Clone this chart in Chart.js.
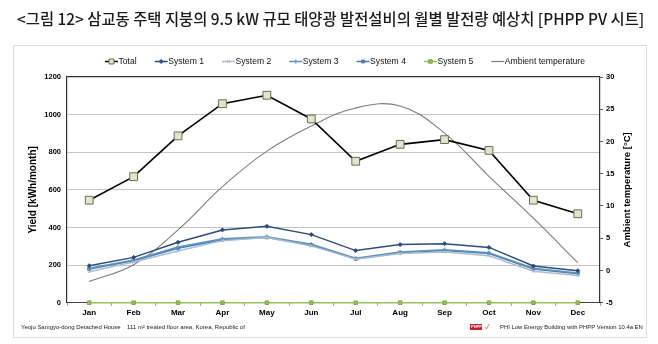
<!DOCTYPE html>
<html>
<head>
<meta charset="utf-8">
<script src="https://cdn.jsdelivr.net/npm/chart.js@4/dist/chart.umd.min.js"></script>
<style>
    body { margin: 0; background: #fff; }
    #wrap { position: relative; width: 658px; height: 344px; overflow: hidden; }
    #pvChart { position: absolute; left: 0; top: 0; }
    #heading {
        position: absolute; left: 17px; top: 7px;
        font-family: "Noto Sans CJK KR", sans-serif; font-weight: 500;
        font-size: 16px; color: #1a1a1a; white-space: nowrap;
    }
    #frame {
        position: absolute; left: 13px; top: 45px; width: 632px; height: 291px;
        border: 1px solid #dcdcdc;
    }
</style>
</head>
<body>
<div id="wrap">
    <div id="frame"></div>
    <canvas id="pvChart" width="658" height="344"></canvas>
    <div id="heading">&lt;그림 12&gt; 삼교동 주택 지붕의 9.5 kW 규모 태양광 발전설비의 월별 발전량 예상치 [PHPP PV 시트]</div>
</div>
<script>
const months = ["Jan", "Feb", "Mar", "Apr", "May", "Jun", "Jul", "Aug", "Sep", "Oct", "Nov", "Dec"];

const totalYield = [545, 670, 887, 1058, 1103, 977, 752, 842, 867, 810, 545, 473];
const system1 = [197, 241, 321, 387, 406, 362, 277, 309, 314, 294, 195, 170];
const system2 = [165, 216, 275, 330, 346, 302, 231, 261, 270, 250, 167, 144];
const system3 = [183, 227, 296, 340, 351, 311, 236, 270, 281, 266, 183, 158];
const system4 = [179, 223, 290, 335, 347, 307, 232, 266, 277, 262, 179, 154];
const system5 = [0, 0, 0, 0, 0, 0, 0, 0, 0, 0, 0, 0];
const ambientTemp = [-1.7, 0.9, 6.3, 13.0, 18.5, 22.4, 25.2, 25.5, 21.3, 14.6, 8.1, 1.2];

const yieldRange = [0, 1200, 200];
const tempRange = [-5, 30, 5];

// footer pieces: text, left edge, width in the picture
const footer = [
    ["Yeoju Samgyo-dong Detached House", 21, 100],
    ["111 m² treated floor area, Korea, Republic of", 127, 118],
    ["PHI Low Energy Building with PHPP Version 10.4a EN", 500, 143]
];

// fit the heading to the width used in the picture
const heading = document.getElementById("heading");
heading.style.fontSize = (16 * 628 / heading.offsetWidth) + "px";

const axisFont = { family: "'Liberation Sans', Arial, sans-serif", size: 7.5, weight: "bold" };

function series(label, data, color, style, radius, extra) {
    return Object.assign({
        label: label,
        data: data,
        borderColor: color,
        backgroundColor: color,
        borderWidth: 1.5,
        pointStyle: style,
        pointRadius: radius,
        pointBorderWidth: 1,
        pointBorderColor: color,
        pointBackgroundColor: color,
        tension: 0,
        clip: false,
        yAxisID: "y"
    }, extra || {});
}

// legend drawn as line + marker like the original
const lineLegend = {
    id: "lineLegend",
    afterDraw(chart) {
        const c = chart.ctx;
        let x = 105;
        const y = 61.5;
        c.save();
        c.font = "8.6px 'Liberation Sans', Arial, sans-serif";
        c.textBaseline = "middle";
        chart.data.datasets.forEach((ds) => {
            c.strokeStyle = ds.borderColor;
            c.lineWidth = ds.label === "Ambient temperature" ? 1.2 : 1.5;
            c.beginPath();
            c.moveTo(x, y);
            c.lineTo(x + 13, y);
            c.stroke();
            if (ds.pointRadius > 0) {
                c.fillStyle = ds.pointBackgroundColor;
                c.strokeStyle = ds.pointBorderColor;
                c.lineWidth = 1;
                const r = ds.label === "Total" ? 3.5 : ds.pointRadius;
                Chart.helpers.drawPoint(c, { pointStyle: ds.pointStyle, radius: r, rotation: 0, borderWidth: 1 }, x + 6.5, y);
            }
            c.fillStyle = "#111";
            c.fillText(ds.label, x + 13.5, y);
            x += 13.5 + c.measureText(ds.label).width + 18;
        });
        c.restore();
    }
};

const extraText = {
    id: "extraText",
    afterDraw(chart) {
        const c = chart.ctx;
        const area = chart.chartArea;
        c.save();
        c.font = "bold 9.5px 'Liberation Sans', Arial, sans-serif";
        c.fillStyle = "#000";
        c.textAlign = "center";
        c.textBaseline = "middle";
        c.translate(627, (area.top + area.bottom) / 2);
        c.rotate(-Math.PI / 2);
        c.fillText("Ambient temperature [°C]", 0, 0);
        c.restore();

        // footer line
        c.save();
        c.textBaseline = "middle";
        c.textAlign = "left";
        c.fillStyle = "#222";
        footer.forEach(([text, x, w]) => {
            c.font = "10px 'Liberation Sans', Arial, sans-serif";
            const size = 10 * w / c.measureText(text).width;
            c.font = size + "px 'Liberation Sans', Arial, sans-serif";
            c.fillText(text, x, 327);
        });
        // small PHPP badge
        c.fillStyle = "#c8202f";
        c.fillRect(470, 324, 12, 6);
        c.fillStyle = "#fff";
        c.font = "bold 4px 'Liberation Sans', Arial, sans-serif";
        c.fillText("PHPP", 471, 327.2);
        c.strokeStyle = "#e05a5a";
        c.lineWidth = 0.8;
        c.beginPath();
        c.moveTo(485, 327);
        c.lineTo(486.5, 329);
        c.lineTo(489, 324);
        c.stroke();
        c.restore();
    }
};

const chart = new Chart(document.getElementById("pvChart"), {
    type: "line",
    data: {
        labels: months,
        datasets: [
            series("Total", totalYield, "#000", "rect", 5.5, {
                borderWidth: 1.6,
                pointBackgroundColor: "#e4e4c8",
                pointBorderColor: "#6b6b5a"
            }),
            series("System 1", system1, "#2f4b7c", "rectRot", 2),
            series("System 2", system2, "#aebccd", "crossRot", 2.2, { pointBorderWidth: 1 }),
            series("System 3", system3, "#5c93bd", "cross", 2.2),
            series("System 4", system4, "#4a7db4", "rect", 2),
            series("System 5", system5, "#9cc05c", "rect", 2.5, { pointBorderColor: "#7fa94a" }),
            series("Ambient temperature", ambientTemp, "#7b7b7b", false, 0, {
                borderWidth: 1.1,
                tension: 0.4,
                yAxisID: "y2"
            })
        ]
    },
    options: {
        responsive: false,
        animation: false,
        layout: {
            padding: { top: 77, left: 15, right: 13, bottom: 21 }
        },
        plugins: {
            legend: { display: false },
            tooltip: { enabled: false }
        },
        scales: {
            x: {
                offset: true,
                grid: {
                    offset: true,
                    drawOnChartArea: false,
                    tickLength: 3,
                    color: "#999"
                },
                border: { color: "#444", width: 1 },
                ticks: { color: "#000", font: { family: axisFont.family, size: 8, weight: "bold" }, padding: 2 },
                afterFit(scale) { scale.height = 20.3; }
            },
            y: {
                min: yieldRange[0],
                max: yieldRange[1],
                ticks: {
                    stepSize: yieldRange[2], color: "#000", font: axisFont, padding: 6,
                    callback: (v) => String(v)
                },
                grid: {
                    drawTicks: false,
                    color: (ctx) => ctx.tick && ctx.tick.value === yieldRange[1] ? "#333" : "#c4c4c4",
                    lineWidth: (ctx) => ctx.tick && ctx.tick.value === yieldRange[1] ? 1.2 : 1
                },
                border: { color: "#333", width: 1.2 },
                title: {
                    display: true,
                    text: "Yield [kWh/month]",
                    color: "#000",
                    font: { family: axisFont.family, size: 10, weight: "bold" },
                    padding: { top: 12, bottom: 0 }
                },
                afterFit(scale) { scale.width = 52; }
            },
            y2: {
                position: "right",
                min: tempRange[0],
                max: tempRange[1],
                ticks: {
                    stepSize: tempRange[2], color: "#000", font: axisFont, padding: 3,
                    callback: (v) => String(v)
                },
                grid: { drawOnChartArea: false, tickLength: 3, color: "#555" },
                border: { color: "#333", width: 1.2 },
                afterFit(scale) { scale.width = 45; }
            }
        }
    },
    plugins: [lineLegend, extraText]
});
</script>
</body>
</html>
